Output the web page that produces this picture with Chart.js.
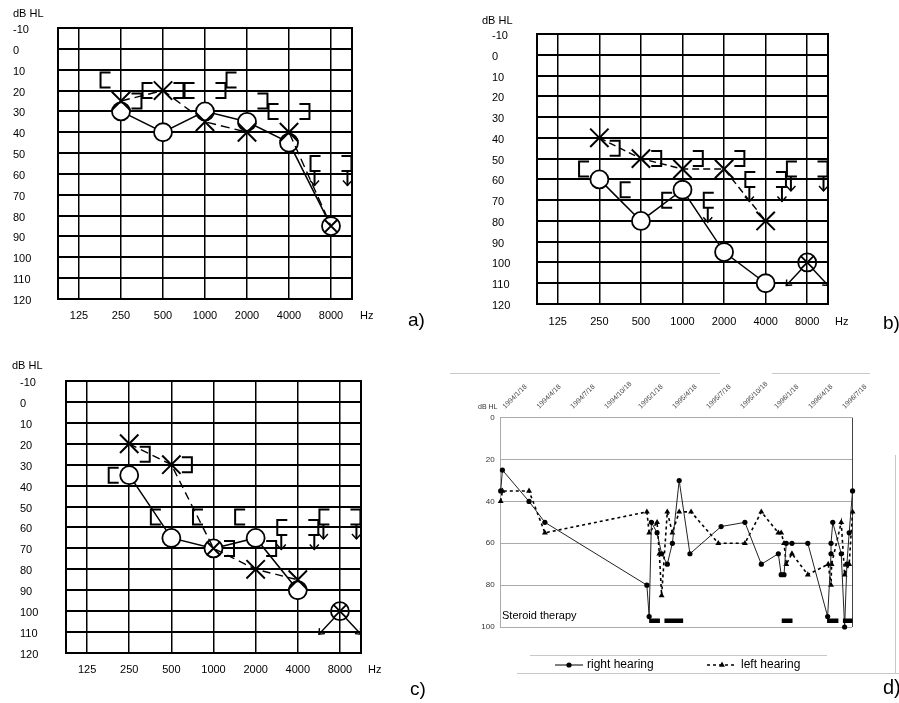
<!DOCTYPE html>
<html>
<head>
<meta charset="utf-8">
<title>Audiograms and hearing course</title>
<script src="https://cdn.jsdelivr.net/npm/chart.js@4.4.0/dist/chart.umd.min.js"></script>
<style>
  body { margin: 0; background: #fff; width: 899px; height: 703px; position: relative; overflow: hidden; }
  canvas { position: absolute; }
</style>
</head>
<body>
<canvas id="chartA" width="450" height="340" style="left:0;top:0"></canvas>
<canvas id="chartB" width="449" height="340" style="left:450px;top:0"></canvas>
<canvas id="chartC" width="450" height="363" style="left:0;top:340px"></canvas>
<canvas id="chartD" width="449" height="363" style="left:450px;top:340px"></canvas>
<script>
// ---------- data: audiograms (index 0..6 = 125..8000 Hz, dB HL) ----------
const freqLabels = ['125', '250', '500', '1000', '2000', '4000', '8000'];

// a)
const rightAirA = [null, 30, 40, 30, 35, 45, 85];
const leftAirA = [null, 25, 20, 35, 40, 40, 85];
const rightBoneA = [null, 15, 20, 20, 15, 30, null];
const leftBoneA = [null, 25, 20, 20, 25, 30, null];
const rightBoneNoRespA = [null, null, null, null, null, null, 55];
const leftBoneNoRespA = [null, null, null, null, null, null, 55];
const airNoRespA = [null, null, null, null, null, null, null];

// b)
const rightAirB = [null, 60, 80, 65, 95, 110, null];
const leftAirB = [null, 40, 50, 55, 55, 80, null];
const rightBoneB = [null, 55, 65, 70, null, null, null];
const leftBoneB = [null, 45, 50, 50, 50, null, null];
const rightBoneNoRespB = [null, null, null, null, 70, 60, 55];
const leftBoneNoRespB = [null, null, null, null, null, 60, 55];
const airNoRespB = [null, null, null, null, null, null, 100];

// c)
const rightAirC = [null, 35, 65, 70, 65, 90, null];
const leftAirC = [null, 20, 30, 70, 80, 85, null];
const rightBoneC = [null, 35, 55, 55, 55, null, null];
const leftBoneC = [null, 25, 30, 70, 70, null, null];
const rightBoneNoRespC = [null, null, null, null, null, 60, 55];
const leftBoneNoRespC = [null, null, null, null, null, 60, 55];
const airNoRespC = [null, null, null, null, null, null, 100];

// ---------- data: d) hearing course (months after 1994/1/18, dB HL) ----------
const dateLabels = ['1994/1/18', '1994/4/18', '1994/7/18', '1994/10/18', '1995/1/18', '1995/4/18',
  '1995/7/18', '1995/10/18', '1996/1/18', '1996/4/18', '1996/7/18'];
const rightMonths = [0, 0.15, 2.5, 3.9, 12.9, 13.1, 13.3, 13.8, 14.2, 14.7, 15.15, 15.75, 16.7, 19.45, 21.55,
  23.0, 24.5, 24.75, 25.0, 25.2, 25.7, 27.1, 28.85, 29.15, 29.15, 29.3, 30.05, 30.35, 30.55, 30.75, 31.05];
const rightDb = [35, 25, 40, 50, 80, 95, 50, 55, 65, 70, 60, 30, 65, 52, 50,
  70, 65, 75, 75, 60, 60, 60, 95, 65, 60, 50, 65, 100, 70, 55, 35];
const leftMonths = [0, 0.15, 2.5, 3.9, 12.9, 13.1, 13.8, 14.0, 14.2, 14.7, 15.15, 15.75, 16.8, 19.2, 21.55,
  23.0, 24.5, 24.75, 25.0, 25.2, 25.7, 27.1, 28.9, 29.15, 29.2, 30.05, 30.35, 30.75, 31.05];
const leftDb = [40, 35, 35, 55, 45, 55, 50, 65, 85, 45, 55, 45, 45, 60, 60,
  45, 55, 55, 60, 70, 65, 75, 70, 80, 70, 50, 75, 70, 45];
const steroidStart = [13.1, 14.45, 24.8, 28.8, 30.2];
const steroidEnd = [14.05, 16.1, 25.75, 29.8, 31.05];
const steroidLevel = 97;

Chart.defaults.font.family = '"Liberation Sans", Arial, sans-serif';
Chart.defaults.animation = false;

// ---------- marker glyphs, drawn around (0,0) ----------
function bracketGlyph(dir, noResp) {
  // dir -1: "[" (right ear, masked bone), +1: "]" (left ear, masked bone)
  return g => {
    g.strokeStyle = '#000'; g.lineWidth = 2;
    g.beginPath();
    g.moveTo(-dir * 5.5, -7.5); g.lineTo(dir * 4.5, -7.5); g.lineTo(dir * 4.5, 7.5); g.lineTo(-dir * 5.5, 7.5);
    g.stroke();
    if (noResp) {
      const sx = dir * 0.5;
      g.beginPath(); g.moveTo(sx, 7.5); g.lineTo(sx, 22); g.stroke();
      g.lineWidth = 1.5;
      g.beginPath(); g.moveTo(sx - 4.5, 17); g.lineTo(sx, 22); g.lineTo(sx + 4.5, 17); g.stroke();
    }
  };
}
function bothNoRespGlyph(g) {
  const r = 9, d = r * Math.SQRT1_2;
  g.strokeStyle = '#000'; g.lineWidth = 1.8;
  g.beginPath(); g.arc(0, 0, r, 0, Math.PI * 2); g.stroke();
  g.beginPath(); g.moveTo(-d, -d); g.lineTo(d, d); g.moveTo(d, -d); g.lineTo(-d, d); g.stroke();
  g.lineWidth = 1.4;
  [-1, 1].forEach(s => {
    const tx = s * 21, ty = 23;
    g.beginPath(); g.moveTo(s * 6, 7); g.lineTo(tx, ty); g.stroke();
    g.beginPath(); g.moveTo(tx - s * 0.5, ty - 6); g.lineTo(tx, ty); g.lineTo(tx - s * 6, ty - 0.5); g.stroke();
  });
}

// ---------- decoration plugin (frame, glyph markers, free texts, legend) ----------
const panelDecor = {
  id: 'panelDecor',
  beforeDatasetsDraw(chart, args, o) {
    const { ctx, chartArea: a } = chart;
    ctx.save();
    (o.lines || []).forEach(l => {
      ctx.strokeStyle = l.color; ctx.lineWidth = l.width;
      ctx.beginPath(); ctx.moveTo(l.x0, l.y0); ctx.lineTo(l.x1, l.y1); ctx.stroke();
    });
    if (o.frame) {
      ctx.strokeStyle = o.frame.color; ctx.lineWidth = o.frame.width;
      ctx.strokeRect(a.left, a.top, a.right - a.left, a.bottom - a.top);
    }
    if (o.rightEdge) {
      ctx.strokeStyle = o.rightEdge; ctx.lineWidth = 1;
      ctx.beginPath(); ctx.moveTo(a.right + 0.5, a.top); ctx.lineTo(a.right + 0.5, a.bottom); ctx.stroke();
    }
    ctx.restore();
  },
  afterDatasetsDraw(chart) {
    const ctx = chart.ctx;
    chart.data.datasets.forEach((ds, i) => {
      if (!ds.glyph) return;
      chart.getDatasetMeta(i).data.forEach(pt => {
        ctx.save(); ctx.translate(pt.x, pt.y); ds.glyph(ctx); ctx.restore();
      });
    });
  },
  afterDraw(chart, args, o) {
    const ctx = chart.ctx;
    ctx.save();
    ctx.textBaseline = 'middle';
    (o.texts || []).forEach(t => {
      ctx.font = t.font; ctx.fillStyle = t.color || '#000'; ctx.textAlign = t.align || 'left';
      ctx.fillText(t.text, t.x, t.y);
    });
    (o.legend || []).forEach(item => {
      const ds = chart.data.datasets[item.dataset];
      ctx.strokeStyle = '#000'; ctx.lineWidth = ds.borderWidth;
      ctx.setLineDash(ds.borderDash || []);
      ctx.beginPath(); ctx.moveTo(item.x, item.y); ctx.lineTo(item.x + item.len, item.y); ctx.stroke();
      ctx.setLineDash([]);
      ctx.fillStyle = '#000';
      Chart.helpers.drawPoint(ctx, { pointStyle: ds.pointStyle, radius: ds.pointRadius, borderWidth: 0 },
        item.x + item.len / 2, item.y);
      ctx.font = item.font; ctx.textAlign = 'left'; ctx.fillStyle = '#000';
      ctx.fillText(ds.label, item.x + item.len + 4, item.y);
    });
    ctx.restore();
  }
};

// ---------- audiogram builder ----------
function audiogram(id, p) {
  const toPts = (vals, shift) => vals.map((v, i) => v == null ? null : { x: i + shift, y: v }).filter(Boolean);
  const marker = (vals, shift, glyph) => ({
    data: toPts(vals, shift), showLine: false, pointRadius: 0, glyph, clip: false, order: 0
  });
  new Chart(document.getElementById(id), {
    type: 'scatter',
    data: {
      datasets: [
        { // left ear, air conduction: X, dashed
          data: toPts(p.leftAir, 0), showLine: true, borderColor: '#000', borderWidth: 1.4, borderDash: p.dash,
          pointStyle: 'crossRot', pointBorderColor: '#000', pointBorderWidth: 2,
          pointRadius: ctx => (ctx.raw && p.rightAir[ctx.raw.x] === ctx.raw.y) ? 9 : 13,
          clip: false, order: 1
        },
        { // right ear, air conduction: O, solid
          data: toPts(p.rightAir, 0), showLine: true, borderColor: '#000', borderWidth: 1.5,
          pointStyle: 'circle', pointBackgroundColor: '#fff', pointBorderColor: '#000', pointBorderWidth: 1.8,
          pointRadius: 9, clip: false, order: 2
        },
        marker(p.rightBone, -0.38, bracketGlyph(-1, false)),
        marker(p.leftBone, 0.38, bracketGlyph(1, false)),
        marker(p.rightBoneNR, -0.38, bracketGlyph(-1, true)),
        marker(p.leftBoneNR, 0.38, bracketGlyph(1, true)),
        marker(p.airNR, 0, bothNoRespGlyph)
      ]
    },
    options: {
      responsive: false,
      devicePixelRatio: 1,
      layout: { padding: p.padding },
      plugins: {
        legend: { display: false }, tooltip: { enabled: false },
        panelDecor: {
          frame: { color: '#000', width: 2 },
          texts: [
            { text: 'dB HL', x: p.title[0], y: p.title[1], font: '11px "Liberation Sans", Arial' },
            { text: 'Hz', x: p.hz[0], y: p.hz[1], font: '11px "Liberation Sans", Arial' },
            { text: p.letter, x: p.letterPos[0], y: p.letterPos[1], font: '19px "Liberation Sans", Arial' }
          ]
        }
      },
      scales: {
        x: {
          type: 'linear', min: -0.5, max: 6.5,
          afterBuildTicks: s => { s.ticks = freqLabels.map((_, i) => ({ value: i })); },
          afterFit: s => { s.height = p.xHeight; },
          ticks: { callback: (v, i) => freqLabels[i], color: '#000', font: { size: 11 }, padding: p.xPad,
            autoSkip: false, maxRotation: 0 },
          grid: { color: '#000', lineWidth: 1.5, drawTicks: false },
          border: { display: false }
        },
        y: {
          type: 'linear', min: -10, max: 120, reverse: true,
          afterFit: s => { s.width = p.yWidth; },
          ticks: { stepSize: 10, color: '#000', font: { size: 11 }, crossAlign: 'far', labelOffset: 2 },
          grid: { color: '#000', lineWidth: 2, drawTicks: false },
          border: { display: false }
        }
      }
    },
    plugins: [panelDecor]
  });
}

audiogram('chartA', {
  rightAir: rightAirA, leftAir: leftAirA, rightBone: rightBoneA, leftBone: leftBoneA,
  rightBoneNR: rightBoneNoRespA, leftBoneNR: leftBoneNoRespA, airNR: airNoRespA,
  dash: [9, 5], padding: { left: 13, top: 28, right: 98, bottom: 0 },
  yWidth: 45, xHeight: 41, xPad: 10,
  title: [13, 14], hz: [360, 316], letter: 'a)', letterPos: [408, 321]
});
audiogram('chartB', {
  rightAir: rightAirB, leftAir: leftAirB, rightBone: rightBoneB, leftBone: leftBoneB,
  rightBoneNR: rightBoneNoRespB, leftBoneNR: leftBoneNoRespB, airNR: airNoRespB,
  dash: [7, 4], padding: { left: 42, top: 34, right: 71, bottom: 0 },
  yWidth: 45, xHeight: 36, xPad: 11,
  title: [32, 21], hz: [385, 322], letter: 'b)', letterPos: [433, 324]
});
audiogram('chartC', {
  rightAir: rightAirC, leftAir: leftAirC, rightBone: rightBoneC, leftBone: leftBoneC,
  rightBoneNR: rightBoneNoRespC, leftBoneNR: leftBoneNoRespC, airNR: airNoRespC,
  dash: [8, 5], padding: { left: 20, top: 41, right: 89, bottom: 0 },
  yWidth: 46, xHeight: 50, xPad: 10,
  title: [12, 26], hz: [368, 330], letter: 'c)', letterPos: [410, 350]
});

// ---------- d) hearing course ----------
const steroidPts = [];
steroidStart.forEach((s, i) => {
  steroidPts.push({ x: s, y: steroidLevel }, { x: steroidEnd[i], y: steroidLevel }, { x: steroidEnd[i], y: null });
});

new Chart(document.getElementById('chartD'), {
  type: 'scatter',
  data: {
    datasets: [
      {
        label: 'right hearing', data: rightMonths.map((m, i) => ({ x: m, y: rightDb[i] })),
        showLine: true, borderColor: '#222', borderWidth: 1,
        pointStyle: 'circle', pointRadius: 2.6, pointBackgroundColor: '#000', pointBorderWidth: 0,
        clip: false, order: 1
      },
      {
        label: 'left hearing', data: leftMonths.map((m, i) => ({ x: m, y: leftDb[i] })),
        showLine: true, borderColor: '#000', borderWidth: 1.6, borderDash: [3, 3],
        pointStyle: 'triangle', pointRadius: 3.4, pointBackgroundColor: '#000', pointBorderWidth: 0,
        clip: false, order: 2
      },
      {
        label: 'Steroid therapy', data: steroidPts, showLine: true, spanGaps: false,
        borderColor: '#000', borderWidth: 4.5, borderCapStyle: 'butt', pointRadius: 0, clip: false, order: 0
      }
    ]
  },
  options: {
    responsive: false,
    devicePixelRatio: 1,
    layout: { padding: { left: 0, top: 0, right: 47, bottom: 76 } },
    plugins: {
      legend: { display: false }, tooltip: { enabled: false },
      panelDecor: {
        rightEdge: '#444',
        lines: [
          { x0: 0, y0: 33.5, x1: 270, y1: 33.5, color: '#c8c8c8', width: 1 },
          { x0: 322, y0: 33.5, x1: 420, y1: 33.5, color: '#c8c8c8', width: 1 },
          { x0: 445.5, y0: 115, x1: 445.5, y1: 334, color: '#c8c8c8', width: 1 },
          { x0: 80, y0: 315.5, x1: 377, y1: 315.5, color: '#c8c8c8', width: 1 },
          { x0: 67, y0: 333.5, x1: 449, y1: 333.5, color: '#c8c8c8', width: 1 }
        ],
        texts: [
          { text: 'dB HL', x: 28, y: 67, font: '7px "Liberation Sans", Arial', color: '#333' },
          { text: 'Steroid therapy', x: 52, y: 276, font: '11px "Liberation Sans", Arial' },
          { text: 'd)', x: 433, y: 348, font: '20px "Liberation Sans", Arial' }
        ],
        legend: [
          { dataset: 0, x: 105, y: 325, len: 28, font: '12px "Liberation Sans", Arial' },
          { dataset: 1, x: 257, y: 325, len: 30, font: '12px "Liberation Sans", Arial' }
        ]
      }
    },
    scales: {
      x: {
        type: 'linear', position: 'top', min: 0, max: 31,
        afterBuildTicks: s => { s.ticks = dateLabels.map((_, i) => ({ value: i * 3 })); },
        afterFit: s => { s.height = 77.7; },
        ticks: { callback: (v, i) => dateLabels[i], color: '#444', font: { size: 7 }, padding: 7,
          labelOffset: 9, autoSkip: false, minRotation: 45, maxRotation: 45 },
        grid: { display: false, drawTicks: false },
        border: { display: false }
      },
      y: {
        type: 'linear', min: 0, max: 100, reverse: true,
        afterFit: s => { s.width = 50.7; },
        ticks: { stepSize: 20, color: '#333', font: { size: 8 }, padding: 6 },
        grid: { color: '#aaa', lineWidth: 1, drawTicks: false },
        border: { display: true, color: '#aaa', width: 1 }
      }
    }
  },
  plugins: [panelDecor]
});
</script>
</body>
</html>
